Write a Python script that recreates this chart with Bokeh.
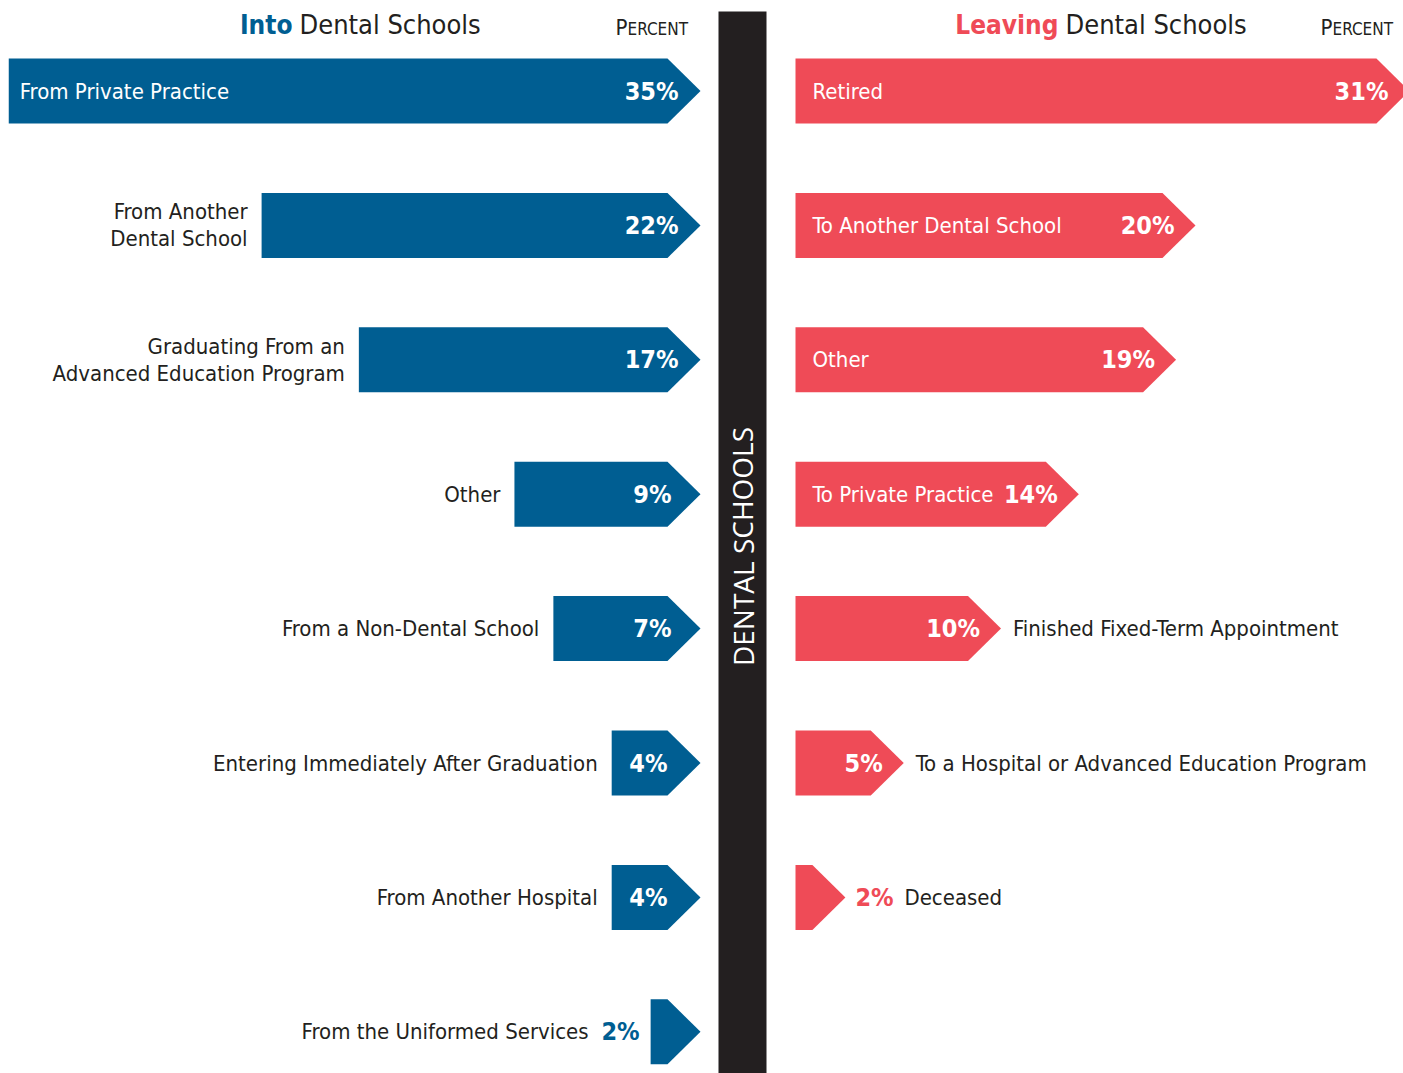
from bokeh.plotting import figure
from bokeh.models import Range1d, ColumnDataSource
from bokeh.core.properties import value
from bokeh.embed import file_html
from bokeh.resources import INLINE

# ---------------- data ----------------
into_labels = ["From Private Practice", "From Another\nDental School",
               "Graduating From an\nAdvanced Education Program", "Other",
               "From a Non-Dental School", "Entering Immediately After Graduation",
               "From Another Hospital", "From the Uniformed Services"]
into_pct = [35, 22, 17, 9, 7, 4, 4, 2]

leave_labels = ["Retired", "To Another Dental School", "Other", "To Private Practice",
                "Finished Fixed-Term Appointment",
                "To a Hospital or Advanced Education Program", "Deceased"]
leave_pct = [31, 20, 19, 14, 10, 5, 2]

center_label = "DENTAL SCHOOLS"
into_title = ("Into", "Dental Schools")
leave_title = ("Leaving", "Dental Schools")
pct_head = ("P", "ERCENT")

# ---------------- style ----------------
BLUE = "#005e92"
RED = "#ef4b57"
DARK = "#231f20"
FONT = value("'Noto Sans Condensed', 'DejaVu Sans Condensed', 'Roboto Condensed', 'Liberation Sans Narrow', Roboto")
LAB = 22   # label font size
NUM = 25   # percent font size

W, H = 1403, 1073
p = figure(width=W, height=H, x_range=Range1d(0, W), y_range=Range1d(H, 0),
           x_axis_type=None, y_axis_type=None, toolbar_location=None,
           output_backend="svg", min_border=0)
p.outline_line_color = None
p.grid.visible = False
p.background_fill_color = "white"

ROW0, STEP, BAR_H, HEAD = 90.5, 134.4, 65, 33
UNIT, BASE = 19.45, 11
LEFT_TIP, RIGHT_START = 700, 795

texts = []  # deferred text draws (drawn above shapes)


def arrow(x0, x1, yc):
    hh = BAR_H / 2
    body = max(x0, x1 - HEAD)
    return [x0, body, x1, body, x0], [yc - hh, yc - hh, yc, yc + hh, yc + hh]


def add_text(xs, ys, tx, color, size, align, bold=False, font=FONT, angle=0):
    texts.append((xs, ys, tx, color, size, align, bold, font, angle))


def add_label(x, yc, label, color, align, size=LAB):
    lines = label.split("\n")
    n = len(lines)
    lh = 27
    xs, ys = [], []
    for i, ln in enumerate(lines):
        xs.append(x)
        ys.append(yc + (i - (n - 1) / 2) * lh)
    add_text(xs, ys, lines, color, size, align)


# central bar
p.quad(left=718, right=766, top=11, bottom=1073, fill_color=DARK, line_color=None)
add_text([742], [546], [center_label], "white", 28, "center", font=value("Open Sans"),
         angle=1.5708)

# left: into
xsL, ysL = [], []
for i, (lab, v) in enumerate(zip(into_labels, into_pct)):
    yc = ROW0 + i * STEP
    length = UNIT * v + BASE
    x0 = LEFT_TIP - length
    px, py = arrow(x0, LEFT_TIP, yc)
    xsL.append(px); ysL.append(py)
    inside_label = v >= 30
    if inside_label:
        add_label(x0 + 11, yc, lab, "white", "left")
    if v >= 4:
        off = 22 if v >= 10 else (29 if v >= 5 else 33)
        add_text([LEFT_TIP - off], [yc], [f"{v}%"], "white", NUM, "right", True)
        if not inside_label:
            add_label(x0 - 14, yc, lab, DARK, "right")
    else:
        add_text([x0 - 11], [yc], [f"{v}%"], BLUE, NUM, "right", True)
        add_label(x0 - 62, yc, lab, DARK, "right")
p.patches(xsL, ysL, fill_color=BLUE, line_color=None)

# right: leaving
xsR, ysR = [], []
for i, (lab, v) in enumerate(zip(leave_labels, leave_pct)):
    yc = ROW0 + i * STEP
    length = UNIT * v + BASE
    x1 = RIGHT_START + length
    px, py = arrow(RIGHT_START, x1, yc)
    xsR.append(px); ysR.append(py)
    if v >= 14:
        add_label(RIGHT_START + 17, yc, lab, "white", "left")
        add_text([x1 - 21], [yc], [f"{v}%"], "white", NUM, "right", True)
    elif v >= 5:
        add_text([x1 - 21], [yc], [f"{v}%"], "white", NUM, "right", True)
        add_label(x1 + 12, yc, lab, DARK, "left")
    else:
        add_text([x1 + 10], [yc], [f"{v}%"], RED, NUM, "left", True)
        add_label(x1 + 59, yc, lab, DARK, "left")
p.patches(xsR, ysR, fill_color=RED, line_color=None)

# titles
add_text([292], [24], [into_title[0]], BLUE, 26, "right", True)
add_text([299], [24], [into_title[1]], DARK, 27, "left")
add_text([1058], [24], [leave_title[0]], RED, 26, "right", True)
add_text([1065], [24], [leave_title[1]], DARK, 27, "left")
for xr in (686, 1391):
    add_text([xr - 59], [27], [pct_head[0]], DARK, 22, "right")
    add_text([xr - 59], [28.5], [pct_head[1]], DARK, 17, "left")

for xs, ys, tx, color, size, align, bold, font, angle in texts:
    src = ColumnDataSource(dict(x=xs, y=ys, t=tx))
    p.text("x", "y", text="t", source=src, text_color=color, text_font=font,
           text_font_size=f"{size}px", text_align=align, text_baseline="middle",
           text_font_style="bold" if bold else "normal", angle=angle)

open("out.html", "w").write(file_html(p, INLINE))
